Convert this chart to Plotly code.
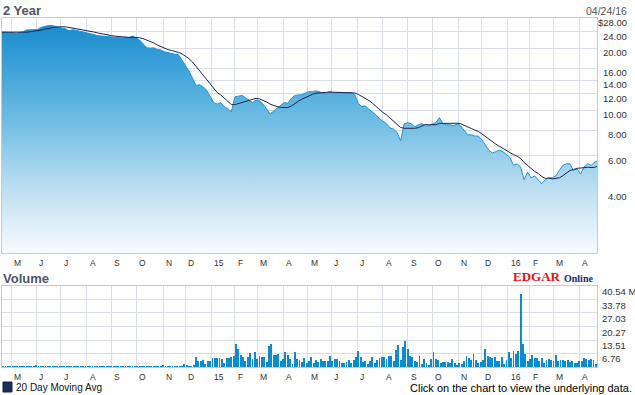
import numpy as np
import pandas as pd
import plotly.graph_objects as go

# ---------------- data ----------------
START = "2014-04-21"
HOLIDAYS = ["2014-05-26", "2014-07-04", "2014-09-01", "2014-11-27", "2014-12-25",
            "2015-01-01", "2015-01-19", "2015-02-16", "2015-04-03", "2015-05-25",
            "2015-07-03", "2015-09-07", "2015-11-26", "2015-12-25", "2016-01-01",
            "2016-01-18", "2016-02-15", "2016-03-25"]
MONTH_STARTS = pd.date_range("2014-05-01", "2016-04-01", freq="MS")
MONTH_LABELS = ["M", "J", "J", "A", "S", "O", "N", "D", "15", "F", "M", "A",
                "M", "J", "J", "A", "S", "O", "N", "D", "16", "F", "M", "A"]

PRICE_TICKS = [28, 24, 20, 16, 14, 12, 10, 8, 6, 4]
PRICE_TICK_TEXT = ["$28.00", "24.00", "20.00", "16.00", "14.00", "12.00",
                   "10.00", "8.00", "6.00", "4.00"]
VOLUME_TICKS = [40.54, 33.78, 27.03, 20.27, 13.51, 6.76]
VOLUME_TICK_TEXT = ["40.54 M", "33.78", "27.03", "20.27", "13.51", "6.76"]

# closing price, one reading every 3 trading days (from 2014-04-21)
PRICE = [23.9,
         23.9, 23.9, 23.8, 23.6, 23.7, 24.0, 24.5, 24.6, 24.5, 24.6,
         25.2, 25.5, 25.7, 25.8, 25.5, 25.3, 25.0, 24.9, 24.2, 24.6,
         24.4, 24.2, 23.9, 23.8, 23.5, 23.3, 23.0, 22.9, 22.9, 22.8,
         22.6, 22.6, 22.5, 22.4, 22.5, 22.5, 22.9, 22.4, 21.9, 21.0,
         20.1, 20.0, 20.1, 19.7, 19.6, 19.2, 19.0, 18.8, 18.7, 18.6,
         17.5, 16.5, 15.5, 14.3, 13.2, 13.3, 13.0, 12.5, 11.7, 10.9,
         10.7, 10.9, 10.4, 10.2, 9.8, 11.6, 11.7, 11.8, 11.5, 11.2,
         10.9, 11.2, 11.1, 10.7, 10.2, 9.6, 9.9, 10.2, 10.5, 10.9,
         10.8, 11.4, 11.8, 11.8, 11.9, 12.1, 12.3, 12.3, 12.4, 12.3,
         12.0, 12.1, 12.3, 12.1, 12.2, 12.2, 12.1, 12.1, 12.2, 11.9,
         10.8, 10.4, 10.5, 10.1, 9.8, 9.5, 9.1, 8.8, 8.6, 8.2,
         8.1, 7.8, 7.1, 8.6, 8.7, 8.6, 8.3, 8.5, 8.6, 8.4,
         8.4, 8.6, 8.7, 9.2, 8.6, 8.5, 8.5, 8.4, 8.6, 8.4,
         8.0, 7.6, 7.6, 7.5, 7.5, 7.2, 6.8, 6.4, 6.2, 6.3,
         6.4, 6.3, 6.1, 5.9, 5.4, 5.5, 5.3, 4.6, 5.0, 4.7,
         4.8, 4.6, 4.4, 4.6, 4.7, 4.7, 4.8, 5.1, 5.4, 5.5,
         5.5, 5.1, 5.2, 4.9, 5.3, 5.5, 5.4, 5.6, 5.7]

# volume in millions, one reading every 2 trading days (from 2014-04-22)
VOLUME = [0.5,
          0.5, 0.5, 0.5, 0.5, 0.5, 0.5, 0.5, 0.5, 0.5, 0.5,
          0.5, 0.5, 0.5, 1.0, 0.5, 0.5, 0.5, 0.5, 0.5, 0.5,
          0.5, 0.5, 0.5, 0.5, 0.5, 0.5, 0.5, 0.5, 0.5, 0.5,
          0.5, 0.5, 0.5, 0.5, 0.5, 0.5, 0.5, 0.5, 0.5, 0.5,
          0.5, 0.5, 0.5, 0.5, 0.5, 0.5, 0.5, 0.5, 0.5, 0.5,
          0.5, 0.5, 0.5, 0.5, 0.5, 0.5, 0.5, 0.5, 0.5, 0.5,
          0.5, 0.5, 0.5, 0.5, 0.5, 0.5, 0.5, 1.0, 0.5, 0.5,
          0.5, 0.5, 0.5, 0.5, 0.5, 0.5,
          1.5, 1.0, 0.5, 0.5, 1.0, 5.0, 2.8, 2.8, 3.5, 1.5,
          2.8, 2.8, 4.5, 4.5, 4.5, 4.5, 4.0, 2.0, 4.5, 4.5,
          5.0, 5.6, 11.5, 9.0, 6.2, 4.8, 3.0, 4.8, 6.8, 4.0,
          7.5, 4.0, 5.5, 4.8, 4.8, 2.7, 10.3, 11.5, 6.0, 6.0,
          6.5, 2.8, 3.8, 7.5, 6.2, 4.0, 1.5, 7.5, 3.8, 3.5,
          2.7, 4.5, 1.8, 2.8, 4.8, 1.8, 3.5, 2.7, 4.0, 3.2,
          2.8, 2.8, 5.7, 3.2, 4.0, 4.0, 3.2, 2.0, 2.0, 2.7,
          3.5, 2.2, 3.5, 5.2, 8.2, 4.8, 2.3, 2.8, 1.5, 2.8,
          5.2, 1.8, 3.5, 4.5, 5.2, 4.8, 4.0, 5.7, 5.7, 2.8,
          8.5, 11.0, 3.5, 9.8, 13.2, 9.0, 5.5, 4.8, 3.0, 2.3,
          5.7, 1.5, 4.0, 1.8, 1.2, 4.0, 7.3, 4.0, 3.5, 2.0,
          2.5, 2.5, 2.5, 1.8, 4.0, 2.0, 1.2, 1.8, 1.5, 2.8,
          5.7, 4.5, 3.5, 6.5, 3.5, 2.0, 2.5, 3.5, 9.0, 5.7,
          4.8, 4.5, 4.8, 3.2, 2.8, 4.8, 1.5, 3.5, 7.3, 4.5,
          7.8, 6.5, 7.8, 36.5, 11.5, 6.5, 3.2, 4.0, 6.2, 4.5,
          4.5, 2.8, 4.5, 1.8, 3.5, 4.0, 3.5, 3.2, 6.2, 3.2,
          3.5, 3.5, 2.8, 3.5, 2.7, 2.8, 1.8, 1.8, 3.2, 2.8,
          4.5, 4.0, 3.5, 4.0, 3.5, 1.5, 3.0]

PRICE_STEP = 3
VOLUME_STEP = 2
VOLUME_OFFSET = 1
MA_WINDOW = 7  # 7 readings x 3 days ~ 20 trading days

# ---------------- derived ----------------
price_x = np.arange(len(PRICE)) * PRICE_STEP
volume_x = VOLUME_OFFSET + np.arange(len(VOLUME)) * VOLUME_STEP
ma = pd.Series(PRICE).rolling(MA_WINDOW, min_periods=1).mean()
hol = np.array(HOLIDAYS, dtype="datetime64[D]")
month_idx = np.busday_count(np.datetime64(START),
                            MONTH_STARTS.values.astype("datetime64[D]"),
                            holidays=hol)

W, H = 635, 395
ML, MR, MT, MB = 2, 38, 18, 28
PW, PH = W - ML - MR, H - MT - MB


def px(xp):
    return (xp - ML) / PW


def py(yp):
    return (H - MB - yp) / PH


PRICE_DOM = [py(253), 1.0]
VOL_DOM = [0.0, py(286)]
X_RANGE = [0, 506]

GRID = "#dadee6"
BORDER = "#c6cad3"
SANS = "Liberation Sans, Arial, sans-serif"
SERIF = "Liberation Serif, Times New Roman, serif"

fig = go.Figure()

fig.add_trace(go.Scatter(x=price_x, y=np.ones(len(PRICE)), mode="lines",
                         line=dict(width=0, color="rgba(0,0,0,0)"),
                         hoverinfo="skip", showlegend=False))
fig.add_trace(go.Scatter(
    x=price_x, y=PRICE, mode="lines", fill="tonexty",
    line=dict(color="#1a96da", width=1),
    fillgradient=dict(type="vertical", start=2.03, stop=28,
                      colorscale=[[0, "#f8fbfe"], [0.25, "#c2e1f2"],
                                  [0.55, "#72bee4"], [0.8, "#3aa1d8"],
                                  [1, "#1387c9"]]),
    showlegend=False))
fig.add_trace(go.Scatter(x=price_x, y=ma, mode="lines",
                         line=dict(color="#1b2452", width=1),
                         showlegend=False))
fig.add_trace(go.Bar(x=volume_x, y=VOLUME, width=1.6, xaxis="x2", yaxis="y2",
                     marker=dict(color="#0b8bd0", line=dict(width=0)),
                     showlegend=False))

axis_common = dict(showgrid=True, gridcolor=GRID, gridwidth=1, showline=True,
                   mirror=True, linecolor=BORDER, linewidth=1, ticks="",
                   showticklabels=False, zeroline=False, fixedrange=True)

fig.update_layout(
    width=W, height=H,
    margin=dict(l=ML, r=MR, t=MT, b=MB, pad=0),
    paper_bgcolor="white", plot_bgcolor="white",
    showlegend=False, hovermode=False, bargap=0,
    xaxis=dict(domain=[0, 1], anchor="y", range=X_RANGE,
               tickmode="array", tickvals=month_idx, **axis_common),
    yaxis=dict(domain=PRICE_DOM, anchor="x", type="log",
               range=[np.log10(2.03), np.log10(28)],
               tickmode="array", tickvals=PRICE_TICKS, **axis_common),
    xaxis2=dict(domain=[0, 1], anchor="y2", range=X_RANGE,
                tickmode="array", tickvals=month_idx, **axis_common),
    yaxis2=dict(domain=VOL_DOM, anchor="x2", range=[0, 40.54],
                tickmode="array", tickvals=VOLUME_TICKS, **axis_common),
)

ann = []
# titles
ann.append(dict(text="<b>2 Year</b>", x=px(1), y=py(10), xref="paper", yref="paper",
                xanchor="left", yanchor="middle", showarrow=False,
                font=dict(family=SANS, size=13, color="#50555f")))
ann.append(dict(text="<b>Volume</b>", x=px(1), y=py(278), xref="paper", yref="paper",
                xanchor="left", yanchor="middle", showarrow=False,
                font=dict(family=SANS, size=13, color="#50555f")))
ann.append(dict(text="04/24/16", x=px(629), y=py(11), xref="paper", yref="paper",
                xanchor="right", yanchor="middle", showarrow=False,
                font=dict(family=SANS, size=10.5, color="#555555")))
# month labels
for xi, lab in zip(month_idx, MONTH_LABELS):
    for yy in (py(263), py(377)):
        ann.append(dict(text=lab, x=xi, y=yy, xref="x", yref="paper",
                        xanchor="left", yanchor="middle", xshift=1,
                        showarrow=False,
                        font=dict(family=SANS, size=8.5, color="#333333")))
# price labels
for v, t in zip(PRICE_TICKS, PRICE_TICK_TEXT):
    ann.append(dict(text=t, x=px(629), y=np.log10(v), xref="paper", yref="y",
                    xanchor="right", yanchor="middle", yshift=-4.5,
                    showarrow=False,
                    font=dict(family=SANS, size=9.5, color="#333333")))
# volume labels
for v, t in zip(VOLUME_TICKS, VOLUME_TICK_TEXT):
    ann.append(dict(text=t, x=px(600), y=v, xref="paper", yref="y2",
                    xanchor="left", yanchor="middle", yshift=-5.5,
                    showarrow=False,
                    font=dict(family=SANS, size=9.5, color="#333333")))
# logo
ann.append(dict(text="<b>EDGAR</b>", x=px(563), y=py(276.5), xref="paper", yref="paper",
                xanchor="right", yanchor="middle", showarrow=False,
                font=dict(family=SERIF, size=13, color="#e8101a")))
ann.append(dict(text="<b>Online</b>", x=px(562), y=py(278), xref="paper", yref="paper",
                xanchor="left", yanchor="middle", showarrow=False,
                font=dict(family=SERIF, size=10, color="#1a2a6c")))
# legend + footer
ann.append(dict(text="20 Day Moving Avg", x=px(14), y=py(387), xref="paper", yref="paper",
                xanchor="left", yanchor="middle", showarrow=False,
                font=dict(family=SANS, size=10, color="#111111")))
ann.append(dict(text="Click on the chart to view the underlying data.",
                x=px(634), y=py(388), xref="paper", yref="paper",
                xanchor="right", yanchor="middle", showarrow=False,
                font=dict(family=SANS, size=11, color="#000000")))
fig.update_layout(annotations=ann)

fig.add_shape(type="rect", xref="paper", yref="paper",
              x0=px(3), x1=px(12), y0=py(392), y1=py(382),
              fillcolor="#1f2d5e", line=dict(color="#16204a", width=1))

fig.write_html("out.html", config={"displayModeBar": False, "staticPlot": True},
               post_script="document.body.style.margin='0px';"
                           "document.body.style.overflow='hidden';")
